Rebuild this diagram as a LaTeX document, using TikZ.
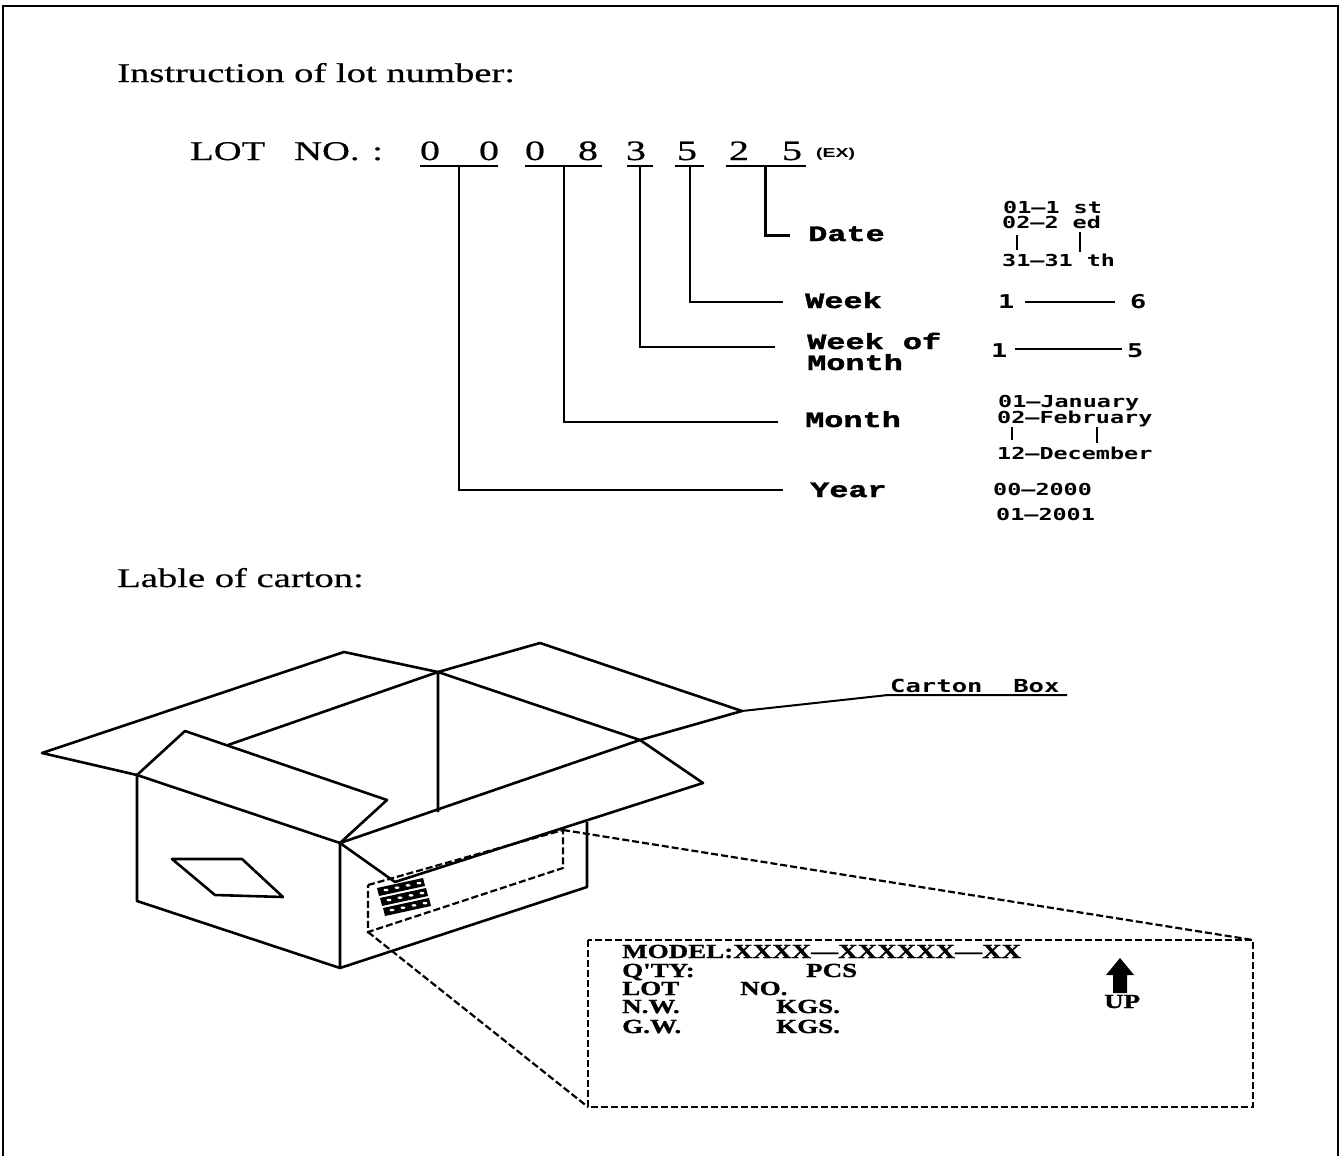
\documentclass[tikz,border=0pt]{standalone}
\usepackage{fontspec}
\newfontfamily\titlefont[FakeStretch=1.43,FakeBold=0.6]{Liberation Serif}
\newfontfamily\labfont[FakeStretch=1.45,BoldFeatures={FakeStretch=1.45,FakeBold=1.8}]{Liberation Mono}
\newfontfamily\valfont[FakeStretch=1.42,BoldFeatures={FakeStretch=1.42}]{DejaVu Sans Mono}
\newfontfamily\boxfont[FakeStretch=1.35,BoldFeatures={FakeStretch=1.35,FakeBold=1.2}]{Liberation Serif}
\newfontfamily\exfont[FakeStretch=1.5,BoldFeatures={FakeStretch=1.5}]{Liberation Sans}
\begin{document}
\begin{tikzpicture}[x=1pt,y=-1pt,
  txt/.style={inner sep=0pt,anchor=base west},
  ttl/.style={txt,font=\titlefont\fontsize{27}{30}\selectfont},
  digit/.style={inner sep=0pt,anchor=base,font=\titlefont\fontsize{28}{30}\selectfont},
  lab/.style={txt,font=\labfont\bfseries\fontsize{22}{24}\selectfont},
  val/.style={txt,font=\valfont\bfseries\fontsize{16.5}{18}\selectfont},
  bigval/.style={txt,font=\valfont\bfseries\fontsize{19}{20}\selectfont},
  boxt/.style={txt,font=\boxfont\bfseries\fontsize{20}{22}\selectfont},
  conn/.style={line width=1.5pt},
  thick conn/.style={line width=3pt},
  uline/.style={line width=2.2pt},
  edge/.style={line width=2.6pt,line join=round},
  dline/.style={line width=2.2pt,dash pattern=on 7pt off 3pt}]
\useasboundingbox (0,0) rectangle (1342,1156);
% frame
\draw[line width=2.5pt] (3,1156) -- (3,6) -- (1338,6) -- (1338,1156);

% titles
\node[ttl] (t1) at (117,82) {Instruction of lot number:};
\node[ttl] (t2) at (117,587) {Lable of carton:};

% LOT NO line
\node[ttl] (lot) at (190,160) {LOT};
\node[ttl] (no) at (294,160) {NO.};
\node[ttl] (colon) at (372,160) {:};
\node[digit] (d1) at (430,160) {0};
\node[digit] (d2) at (489,160) {0};
\node[digit] (d3) at (535,160) {0};
\node[digit] (d4) at (588,160) {8};
\node[digit] (d5) at (636,160) {3};
\node[digit] (d6) at (687,160) {5};
\node[digit] (d7) at (739,160) {2};
\node[digit] (d8) at (792,160) {5};
\node[txt,font=\exfont\bfseries\fontsize{13}{14}\selectfont] (ex) at (816,157) {(EX)};

% underlines
\draw[uline] (420,166) -- (498,166);
\draw[uline] (525,166) -- (602,166);
\draw[uline] (627,166) -- (653,166);
\draw[uline] (675,166) -- (704,166);
\draw[uline] (726,166) -- (806,166);
\coordinate (uy) at (459,166);
\coordinate (um) at (564,166);
\coordinate (uwm) at (640,166);
\coordinate (uw) at (690,166);
\coordinate (ud) at (765,166);

% labels
\node[lab] (date) at (808,241) {Date};
\node[lab] (week) at (805,308) {Week};
\node[lab] (wom) at (807,349) {Week of};
\node[lab] (wom2) at (807,370) {Month};
\node[lab] (month) at (805,427) {Month};
\node[lab] (year) at (810,497) {Year};

\coordinate (ed) at (790,235);
\coordinate (ew) at (783,302);
\coordinate (ewm) at (775,347);
\coordinate (em) at (778,422);
\coordinate (ey) at (783,490);
\draw[thick conn] (ud) |- (ed);
\draw[conn] (uw) |- (ew);
\draw[conn] (uwm) |- (ewm);
\draw[conn] (um) |- (em);
\draw[conn] (uy) |- (ey);

% values
\node[val] (v1) at (1003,213) {01—1 st};
\node[val] (v2) at (1002,228) {02—2 ed};
\node[val] (v3) at (1002,266) {31—31 th};
\draw[line width=1.6pt] (1017,235) -- (1017,250);
\draw[line width=1.6pt] (1080,232) -- (1080,252);

\node[bigval] (w1) at (998,308) {1};
\node[bigval] (w6) at (1130,308) {6};
\draw[line width=1.5pt] (1025,302) -- (1115,302);

\node[bigval] (m1) at (991,357) {1};
\node[bigval] (m5) at (1127,357) {5};
\draw[line width=1.5pt] (1015,349) -- (1122,349);

\node[val] (mo1) at (998,407) {01—January};
\node[val] (mo2) at (997,423) {02—February};
\node[val] (mo3) at (997,459) {12—December};
\draw[line width=1.6pt] (1012,427) -- (1012,440);
\draw[line width=1.6pt] (1097,427) -- (1097,443);

\node[val] (y1) at (993,495) {00—2000};
\node[val] (y2) at (996,520) {01—2001};

% carton box drawing
\draw[edge] (137,775) -- (42,753) -- (344,652) -- (438,672);
\draw[edge] (228,745) -- (438,672) -- (438,812);
\draw[edge] (438,672) -- (540,643) -- (742,711) -- (640,740) -- cycle;
\draw[edge] (340,843) -- (640,740) -- (703,783) -- (395,882) -- cycle;
\draw[edge] (137,775) -- (340,843) -- (340,968) -- (137,901) -- cycle;
\draw[edge] (137,775) -- (185,731) -- (387,800) -- (340,843);
\draw[edge] (340,968) -- (587,887) -- (587,822);
\draw[edge] (172,859) -- (242,859) -- (283,897) -- (215,895) -- cycle;

% small label on the box
\draw[dline] (368,885) -- (563,830) -- (563,868) -- (368,932) -- cycle;
\foreach \k in {0,1,2} {
  \fill[black] ({377+3*\k},{888+10*\k}) -- ({423+3*\k},{878+10*\k}) -- ({425+3*\k},{886+10*\k}) -- ({379+3*\k},{896+10*\k}) -- cycle;
  \foreach \j in {0,1,2,3} {
    \fill[white] ({386+3*\k+11*\j},{890+10*\k-2.3*\j}) ellipse (2.5 and 1.3);
  }
}
\coordinate (sl1) at (563,830);
\coordinate (sl2) at (368,932);

% label box
\coordinate (lb1) at (1253,940);
\coordinate (lb2) at (588,1107);
\draw[dline] (588,940) rectangle (1253,1107);
\draw[dline] (sl1) -- (lb1);
\draw[dline] (sl2) -- (lb2);

\node[boxt] (bm) at (622,958) {MODEL:XXXX—XXXXXX—XX};
\node[boxt] (bq) at (622,977) {Q'TY:};
\node[boxt] (bp) at (806,977) {PCS};
\node[boxt] (bl) at (622,995) {LOT};
\node[boxt] (bn) at (740,995) {NO.};
\node[boxt] (bnw) at (622,1013) {N.W.};
\node[boxt] (bk1) at (776,1013) {KGS.};
\node[boxt] (bgw) at (622,1033) {G.W.};
\node[boxt] (bk2) at (776,1033) {KGS.};
\node[boxt] (up) at (1104,1008) {UP};
\fill[black] (1113,993) -- (1113,975) -- (1106,975) -- (1120,958) -- (1134,975) -- (1127,975) -- (1127,993) -- cycle;

% carton box leader
\node[txt,font=\valfont\bfseries\fontsize{18}{19}\selectfont] (cb) at (890,692) {Carton\ \ Box};
\coordinate (cbl) at (888,695);
\coordinate (cbr) at (1067,695);
\coordinate (flap) at (742,711);
\draw[line width=2pt] (flap) -- (cbl) -- (cbr);
\end{tikzpicture}
\end{document}
